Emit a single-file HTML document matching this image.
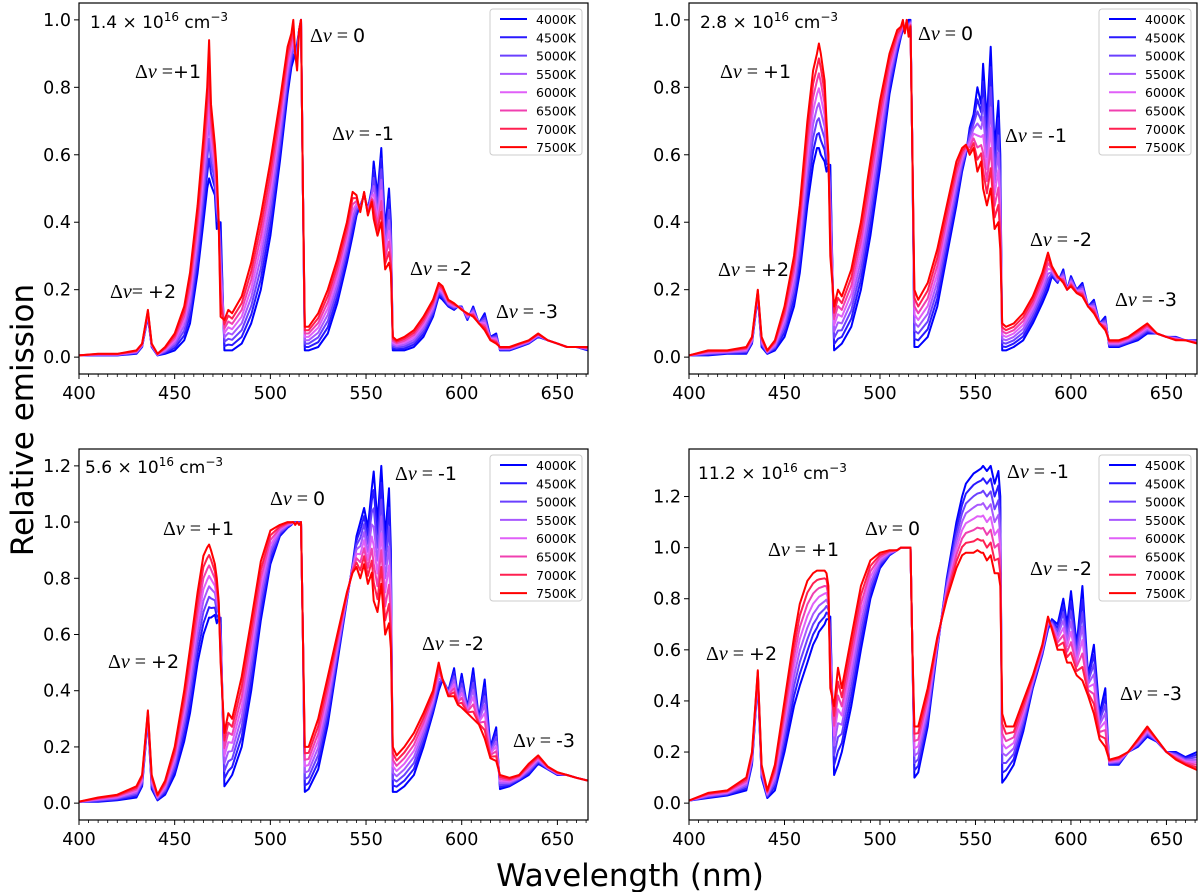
<!DOCTYPE html>
<html><head><meta charset="utf-8"><style>
html,body{margin:0;padding:0;background:#fff;}
svg{display:block;font-family:"DejaVu Sans","Liberation Sans",sans-serif;}
.ann{font-family:"Liberation Serif","DejaVu Serif",serif;font-size:20px;}
</style></head><body>
<svg id="chart" width="1200" height="892" viewBox="0 0 1200 892" xmlns="http://www.w3.org/2000/svg">
<text x="0" y="0" transform="translate(33,420) rotate(-90)" text-anchor="middle" font-size="31">Relative emission</text>
<text x="630" y="886" text-anchor="middle" font-size="31">Wavelength (nm)</text>
</svg>
<script>
const wl=[400,410,420,430,433,436,438,441,445,450,455,458,462,465,467,468,469,471,472,473,474,476,478,480,485,490,495,500,505,509,511,512,513,514,515,516,517,518,520,525,530,535,540,543,545,547,549,551,553,554,556,558,560,562,563,564,566,570,575,580,585,588,590,593,596,598,600,603,606,609,612,615,618,620,625,630,635,640,645,650,655,660,666];
const temps=["4000K","4500K","5000K","5500K","6000K","6500K","7000K","7500K"];
const tempsBR=["4500K","4500K","5000K","5500K","6000K","6500K","7000K","7500K"];
const mixWeights=[0,1/7,2/7,3/7,4/7,5/7,6/7,1];
const a_hot=[.005,.01,.01,.02,.04,.14,.04,.01,.03,.07,.15,.25,.45,.65,.8,.94,.75,.63,.55,.4,.12,.11,.14,.13,.18,.28,.42,.58,.76,.92,.96,1.0,.9,.85,.97,1.0,.5,.09,.09,.13,.2,.29,.4,.49,.48,.43,.49,.42,.46,.41,.36,.4,.26,.28,.25,.06,.05,.06,.08,.12,.17,.22,.21,.17,.16,.15,.14,.13,.12,.1,.08,.05,.04,.03,.03,.04,.05,.07,.05,.04,.03,.03,.03];
const a_cool=[.005,.005,.005,.01,.03,.12,.03,.005,.01,.02,.05,.1,.25,.4,.5,.53,.51,.48,.38,.4,.4,.02,.02,.02,.04,.1,.2,.36,.58,.78,.86,.88,.9,.93,.97,1.0,.5,.02,.02,.03,.07,.16,.28,.36,.42,.45,.48,.44,.5,.58,.48,.62,.38,.5,.4,.02,.02,.02,.03,.06,.12,.18,.17,.15,.14,.15,.15,.11,.15,.1,.13,.06,.07,.02,.02,.03,.04,.06,.05,.04,.03,.03,.02];
const b_hot=[.005,.02,.02,.03,.06,.2,.06,.02,.05,.15,.3,.45,.7,.85,.9,.93,.9,.82,.7,.6,.3,.15,.2,.18,.26,.4,.58,.76,.9,.97,.98,1.0,.96,1.0,.95,.98,.6,.2,.17,.22,.32,.45,.58,.62,.63,.6,.62,.55,.58,.5,.45,.5,.38,.4,.32,.1,.09,.1,.13,.18,.25,.31,.27,.24,.22,.2,.21,.19,.18,.15,.13,.1,.08,.05,.05,.06,.08,.1,.07,.06,.05,.05,.04];
const b_cool=[.005,.005,.01,.01,.04,.18,.03,.01,.02,.06,.15,.25,.45,.57,.62,.62,.6,.58,.55,.57,.57,.02,.03,.04,.09,.2,.36,.56,.78,.9,.95,.97,.98,.99,1.0,1.0,.6,.03,.03,.06,.15,.3,.45,.55,.6,.68,.72,.8,.75,.87,.7,.92,.62,.76,.6,.02,.02,.03,.05,.1,.16,.2,.24,.22,.26,.2,.24,.2,.22,.15,.17,.1,.12,.03,.03,.04,.05,.07,.07,.06,.06,.05,.05];
const c_hot=[.005,.02,.03,.06,.1,.33,.1,.03,.08,.2,.4,.55,.75,.88,.91,.92,.9,.85,.8,.72,.5,.25,.32,.3,.45,.65,.86,.97,.99,1.0,1.0,1.0,.99,1.0,.99,1.0,.6,.2,.2,.3,.45,.6,.75,.82,.84,.8,.85,.78,.82,.72,.68,.78,.6,.64,.55,.2,.17,.2,.25,.32,.4,.5,.44,.38,.38,.35,.34,.32,.3,.28,.23,.16,.15,.1,.09,.1,.14,.17,.13,.11,.1,.09,.08];
const c_cool=[.005,.005,.01,.02,.06,.3,.05,.01,.03,.1,.22,.32,.5,.6,.64,.66,.66,.67,.64,.66,.66,.06,.08,.1,.2,.4,.65,.85,.95,.98,.99,1.0,1.0,1.0,1.0,1.0,.6,.04,.05,.12,.28,.5,.72,.85,.95,1.0,1.05,.98,1.12,1.18,1.0,1.2,.95,1.12,.9,.04,.04,.06,.1,.2,.32,.4,.44,.4,.48,.38,.46,.34,.48,.3,.44,.2,.27,.05,.06,.08,.1,.14,.12,.1,.1,.09,.08];
const d_hot=[.01,.04,.05,.1,.2,.52,.15,.05,.15,.4,.65,.78,.87,.9,.91,.91,.91,.91,.9,.85,.45,.38,.53,.45,.65,.85,.95,.98,.99,.99,1.0,1.0,1.0,1.0,1.0,1.0,.6,.3,.3,.45,.65,.8,.92,.97,.98,.98,.98,.99,.98,.98,.95,.97,.9,.9,.85,.35,.3,.3,.4,.5,.62,.73,.68,.6,.6,.55,.55,.5,.48,.42,.35,.25,.22,.17,.18,.2,.25,.3,.25,.2,.17,.15,.13];
const d_cool=[.01,.02,.03,.05,.15,.48,.1,.02,.05,.2,.38,.46,.55,.62,.65,.67,.68,.7,.72,.72,.73,.11,.15,.2,.38,.6,.8,.92,.97,.99,1.0,1.0,1.0,1.0,1.0,1.0,.6,.1,.12,.3,.6,.88,1.1,1.2,1.25,1.27,1.29,1.3,1.31,1.32,1.3,1.32,1.25,1.3,1.2,.08,.1,.15,.28,.45,.58,.68,.72,.7,.8,.7,.83,.62,.85,.5,.62,.35,.45,.15,.15,.2,.22,.26,.24,.2,.2,.18,.2];
const yTicksTop=[0,0.2,0.4,0.6,0.8,1.0];
const yTicksBot=[0,0.2,0.4,0.6,0.8,1.0,1.2];
const xTicks=[400,450,500,550,600,650];
const colors=["#0000ff","#2a1aff","#6a40ff","#a858ff","#e060f8","#f040b0","#ff2050","#ff0000"];
const NS="http://www.w3.org/2000/svg";
const svg=document.getElementById('chart');
function mk(tag,attrs,parent){const e=document.createElementNS(NS,tag);for(const k in attrs)e.setAttribute(k,attrs[k]);(parent||svg).appendChild(e);return e;}
const panels=[
 {name:'panel-1-4e16',x0:79,x1:588,y0:3,y1:374,ymin:-0.05,ymax:1.05,yt:yTicksTop,hot:a_hot,cool:a_cool,lbl:temps,dens:'1.4',dx:90,dy:28,
  ann:[["+1","ν =+1",135,78],["0","ν = 0",310,42],["-1","ν = -1",332,140],["-2","ν = -2",410,275],["-3","ν = -3",496,318],["+2","ν= +2",110,298]]},
 {name:'panel-2-8e16',x0:689,x1:1197,y0:3,y1:374,ymin:-0.05,ymax:1.05,yt:yTicksTop,hot:b_hot,cool:b_cool,lbl:temps,dens:'2.8',dx:700,dy:28,
  ann:[["+1","ν = +1",720,78],["0","ν = 0",918,40],["-1","ν = -1",1005,142],["-2","ν = -2",1030,246],["-3","ν = -3",1115,306],["+2","ν = +2",718,276]]},
 {name:'panel-5-6e16',x0:79,x1:588,y0:449,y1:820,ymin:-0.06,ymax:1.26,yt:yTicksBot,hot:c_hot,cool:c_cool,lbl:temps,dens:'5.6',dx:85,dy:473,
  ann:[["+1","ν = +1",163,535],["0","ν = 0",270,505],["-1","ν = -1",395,480],["-2","ν = -2",422,650],["-3","ν = -3",513,747],["+2","ν = +2",108,668]]},
 {name:'panel-11-2e16',x0:689,x1:1197,y0:449,y1:820,ymin:-0.066,ymax:1.386,yt:yTicksBot,hot:d_hot,cool:d_cool,lbl:tempsBR,dens:'11.2',dx:698,dy:479,
  ann:[["+1","ν = +1",768,556],["0","ν = 0",865,535],["-1","ν = -1",1007,478],["-2","ν = -2",1030,575],["-3","ν = -3",1120,700],["+2","ν = +2",706,660]]}
];
panels.forEach((p,pi)=>{
 const g=mk('g',{});
 
 
 const X=v=>p.x0+(v-400)/(666-400)*(p.x1-p.x0);
 const Y=v=>p.y1-(v-p.ymin)/(p.ymax-p.ymin)*(p.y1-p.y0);
 const cid='clip'+pi;
 const cp=mk('clipPath',{id:cid},g);mk('rect',{x:p.x0,y:p.y0,width:p.x1-p.x0,height:p.y1-p.y0},cp);
 const lines=mk('g',{'clip-path':'url(#'+cid+')'},g);
 mixWeights.forEach((w,si)=>{
  const d=wl.map((v,i)=>(i?'L':'M')+X(v).toFixed(1)+','+Y(p.cool[i]*(1-w)+p.hot[i]*w).toFixed(1)).join('');
  const path=mk('path',{d:d,fill:'none',stroke:colors[si],'stroke-width':2,'stroke-linejoin':'round'},lines);
  
  
 });
 const frame=mk('rect',{x:p.x0,y:p.y0,width:p.x1-p.x0,height:p.y1-p.y0,fill:'none',stroke:'#000','stroke-width':1.2},g);
 
 
 xTicks.forEach(t=>{
  mk('line',{x1:X(t),x2:X(t),y1:p.y1,y2:p.y1+5,stroke:'#000'},g);
  const tx=mk('text',{x:X(t),y:p.y1+25,'text-anchor':'middle','font-size':17.5},g);tx.textContent=t;
  
  
 });
 for(let t=405;t<666;t+=5){if(t%50)mk('line',{x1:X(t),x2:X(t),y1:p.y1,y2:p.y1+3,stroke:'#000','stroke-width':0.8},g);}
 p.yt.forEach(t=>{
  mk('line',{x1:p.x0-5,x2:p.x0,y1:Y(t),y2:Y(t),stroke:'#000'},g);
  const tx=mk('text',{x:p.x0-8,y:Y(t)+6,'text-anchor':'end','font-size':17.5},g);tx.textContent=t.toFixed(1);
  
  
 });
 const dt=mk('text',{x:p.dx,y:p.dy,'font-size':17},g);
 dt.innerHTML=p.dens+' × 10<tspan dy="-7" font-size="12">16</tspan><tspan dy="7"> cm</tspan><tspan dy="-7" font-size="12">−3</tspan>';
 
 
 p.ann.forEach(a=>{
  const t=mk('text',{x:a[2],y:a[3],class:'ann'},g);
  t.innerHTML='Δ<tspan font-style="italic">ν</tspan>'+a[1].slice(1).replace(/([+-]?\d)/,'<tspan font-family="DejaVu Sans, sans-serif" font-size="19">$1</tspan>');
  
  
 });
 const lx=p.x1-98,ly=p.y0+6;
 const leg=mk('g',{},g);
 
 
 mk('rect',{x:lx,y:ly,width:92,height:146,fill:'#fff',stroke:'#ccc',rx:3},leg);
 p.lbl.forEach((l,si)=>{
  const ey=ly+10+si*18.3;
  const e=mk('g',{},leg);
  
  
  mk('line',{x1:lx+10,x2:lx+37,y1:ey,y2:ey,stroke:colors[si],'stroke-width':2},e);
  const t=mk('text',{x:lx+46,y:ey+5,'font-size':12.5},e);t.textContent=l;
 });
});
</script>
</body></html>
